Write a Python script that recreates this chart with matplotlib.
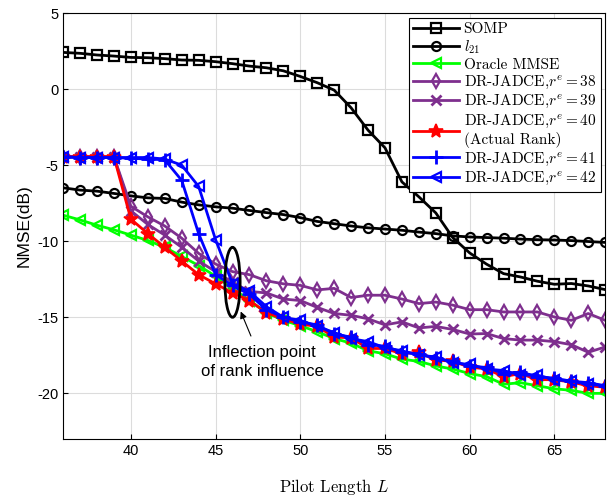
import numpy as np
import matplotlib
matplotlib.use("Agg")
import matplotlib.pyplot as plt
from matplotlib.patches import Ellipse

plt.rcParams['font.family'] = ['Liberation Sans', 'DejaVu Sans']
plt.rcParams['mathtext.fontset'] = 'cm'
plt.rcParams['axes.unicode_minus'] = False

# longueur du pilote
L = np.arange(36, 69)

somp = [2.41, 2.35, 2.24, 2.17, 2.08, 2.06, 2.0, 1.91, 1.89, 1.8, 1.67, 1.51, 1.4, 1.2,
        0.83, 0.42, -0.07, -1.23, -2.7, -3.86, -6.10, -7.08, -8.14, -9.76, -10.77,
        -11.51, -12.13, -12.35, -12.63, -12.83, -12.78, -12.94, -13.18]
l21 = [-6.49, -6.64, -6.71, -6.86, -7.02, -7.15, -7.19, -7.43, -7.61, -7.74, -7.83,
       -7.98, -8.12, -8.25, -8.45, -8.7, -8.85, -9.0, -9.12, -9.2, -9.28, -9.4, -9.5,
       -9.65, -9.72, -9.76, -9.8, -9.86, -9.9, -9.92, -9.96, -10.02, -10.08]
oracle = [-8.29, -8.6, -8.95, -9.25, -9.6, -9.95, -10.4, -11.0, -11.6, -12.3, -13.1,
          -13.9, -14.7, -15.2, -15.55, -15.95, -16.4, -16.7, -17.2, -17.4, -17.75,
          -17.9, -18.2, -18.4, -18.7, -18.9, -19.4, -19.3, -19.5, -19.7, -19.8, -20.0, -20.0]
r38 = [-4.45, -4.45, -4.45, -4.45, -7.7, -8.4, -9.0, -9.8, -10.8, -11.5, -12.0, -12.2,
       -12.6, -12.8, -12.9, -13.2, -13.1, -13.7, -13.55, -13.55, -13.8, -14.1, -14.0,
       -14.2, -14.5, -14.5, -14.65, -14.65, -14.65, -14.98, -15.2, -14.75, -15.2]
r39 = [-4.45, -4.45, -4.45, -4.45, -8.0, -8.9, -9.6, -10.4, -11.3, -12.0, -12.7, -13.3,
       -13.4, -13.8, -13.9, -14.35, -14.75, -14.87, -15.1, -15.5, -15.3, -15.7, -15.6,
       -15.8, -16.1, -16.07, -16.4, -16.5, -16.5, -16.6, -16.8, -17.3, -16.95]
r40 = [-4.45, -4.45, -4.45, -4.45, -8.55, -9.5, -10.4, -11.3, -12.2, -12.8, -13.4, -13.9,
       -14.7, -15.1, -15.45, -15.6, -16.3, -16.35, -17.05, -17.05, -17.4, -17.3, -17.8,
       -17.9, -18.27, -18.4, -18.9, -18.7, -19.1, -19.1, -19.26, -19.5, -19.6]
r41 = [-4.45, -4.5, -4.5, -4.5, -4.55, -4.6, -4.65, -6.0, -9.5, -12.2, -12.9, -13.5,
       -14.5, -15.0, -15.3, -15.5, -16.1, -16.3, -16.8, -16.9, -17.3, -17.4, -17.7,
       -17.9, -18.2, -18.3, -18.7, -18.6, -18.9, -19.0, -19.2, -19.3, -19.5]
r42 = [-4.45, -4.5, -4.5, -4.5, -4.5, -4.5, -4.6, -5.0, -6.4, -9.9, -12.8, -13.3, -14.3,
       -15.0, -15.2, -15.6, -16.0, -16.4, -16.6, -17.0, -17.2, -17.5, -17.6, -18.0,
       -18.1, -18.4, -18.5, -18.8, -18.8, -19.1, -19.2, -19.4, -19.5]

purple = '#7E2F8E'

fig = plt.figure(figsize=(6.07, 5.0), dpi=100)
ax = fig.add_axes([0.104, 0.122, 0.893, 0.852])

lw = 2.0
ax.plot(L, somp, '-s', color='k', lw=lw, ms=6.5, mew=1.6, mfc='none', label='SOMP')
ax.plot(L, l21, '-o', color='k', lw=lw, ms=6.5, mew=1.6, mfc='none', label='$l_{21}$')
ax.plot(L, oracle, '-<', color='#00FF00', lw=lw, ms=7.5, mew=1.6, mfc='none', label='Oracle MMSE')
ax.plot(L, r38, '-d', color=purple, lw=lw, ms=7.5, mew=1.6, mfc='none',
        label='DR-JADCE,$r^e = 38$')
ax.plot(L, r39, '-x', color=purple, lw=lw, ms=7.5, mew=2, label='DR-JADCE,$r^e = 39$')
ax.plot(L, r40, '-*', color='#FF0000', lw=lw, ms=10, mew=1.2,
        label='DR-JADCE,$r^e = 40$\n(Actual Rank)')
ax.plot(L, r41, '-+', color='#0000FF', lw=lw, ms=10, mew=2, label='DR-JADCE,$r^e = 41$')
ax.plot(L, r42, '-<', color='#0000FF', lw=lw, ms=7.5, mew=1.6, mfc='none',
        label='DR-JADCE,$r^e = 42$')

# annotation du point d'inflexion
ax.add_patch(Ellipse((46.0, -12.7), 0.9, 4.6, fill=False, ec='k', lw=2.0, zorder=5))
ax.annotate('', xy=(46.42, -14.45), xytext=(47.15, -16.4),
            arrowprops=dict(arrowstyle='-|>', color='k', lw=0.8))
ax.text(47.75, -17.95, 'Inflection point\nof rank influence', ha='center', va='center',
        fontsize=12, linespacing=1.35)

ax.set_xlim(36, 68)
ax.set_ylim(-23, 5)
ax.set_xticks([40, 45, 50, 55, 60, 65])
ax.set_yticks([5, 0, -5, -10, -15, -20])
ax.tick_params(direction='in', labelsize=10.5, top=False, right=False)
ax.grid(True, color='#DCDCDC', lw=0.8)
ax.set_axisbelow(True)

ax.set_xlabel('Pilot Length $L$', family='cmr10', fontsize=12, labelpad=14)
ax.set_ylabel('NMSE(dB)', fontsize=12.5)

leg = ax.legend(loc='upper right', prop={'family': 'cmr10', 'size': 11},
                handlelength=3.0, borderaxespad=0.3, labelspacing=0.15,
                fancybox=False, edgecolor='k', framealpha=1, borderpad=0.3,
                handletextpad=0.3)
leg.get_frame().set_linewidth(0.8)

plt.savefig('out.png', dpi=100)
